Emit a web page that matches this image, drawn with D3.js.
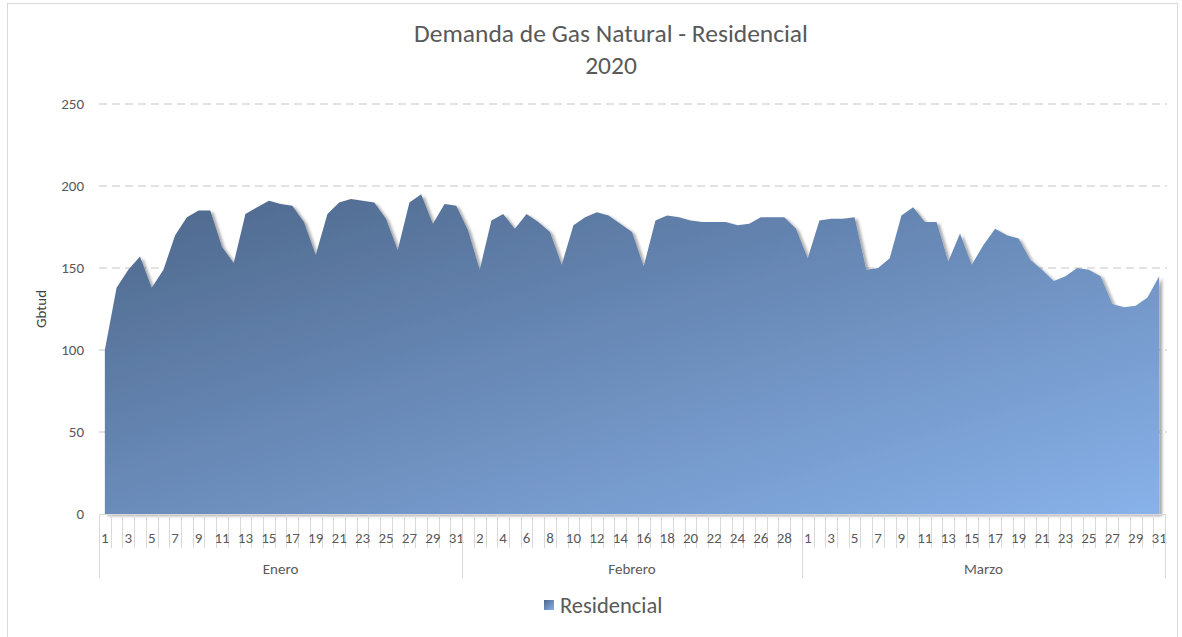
<!DOCTYPE html>
<html>
<head>
<meta charset="utf-8">
<script src="https://cdn.jsdelivr.net/npm/d3@7"></script>
<style>
  body { margin: 0; background: #fff; }
  text { font-family: Carlito, Calibri, Lato, "Open Sans", sans-serif; }
</style>
</head>
<body>
<div id="chart"></div>
<script>
// data
var months = ["Enero", "Febrero", "Marzo"];
var monthDays = [31, 29, 31];
var enero = [100, 138, 149, 157, 138, 149, 170, 181, 185, 185, 163, 153, 183, 187, 191, 189,
  188, 178, 158, 183, 190, 192, 191, 190, 180, 161, 190, 195, 177, 189, 188];
var febrero = [173, 149, 179, 183, 174, 183, 178, 172, 152, 176, 181, 184, 182, 177, 172,
  151, 179, 182, 181, 179, 178, 178, 178, 176, 177, 181, 181, 181, 174];
var marzo = [156, 179, 180, 180, 181, 149, 150, 156, 182, 187, 178, 178, 154, 171, 152, 164,
  174, 170, 168, 155, 149, 142, 145, 150, 149, 145, 128, 126, 127, 132, 145];
var yTicks = [0, 50, 100, 150, 200, 250];
var seriesName = "Residencial";

var width = 1182, height = 637;
var margin = { top: 104, left: 99, right: 17, bottom: 123 };

// one entry per day
var days = [];
[enero, febrero, marzo].forEach(function (arr, m) {
  arr.forEach(function (v, d) {
    days.push({ key: m + "-" + (d + 1), month: m, day: d + 1, value: v });
  });
});

var svg = d3.select("#chart").append("svg")
  .attr("width", width)
  .attr("height", height);

// chart frame
svg.append("rect")
  .attr("x", 7.5).attr("y", 3.5)
  .attr("width", 1170).attr("height", 660)
  .attr("fill", "none")
  .attr("stroke", "#d9d9d9");

var defs = svg.append("defs");
var grad = defs.append("linearGradient")
  .attr("id", "areaGrad")
  .attr("x1", 0).attr("y1", 0).attr("x2", 1).attr("y2", 1);
grad.append("stop").attr("offset", "0%").attr("stop-color", "#4d668a");
grad.append("stop").attr("offset", "100%").attr("stop-color", "#88b2ea");

var shadow = defs.append("filter").attr("id", "shadow")
  .attr("x", "-5%").attr("y", "-5%").attr("width", "110%").attr("height", "110%");
shadow.append("feDropShadow")
  .attr("dx", 3).attr("dy", 2).attr("stdDeviation", 1.6)
  .attr("flood-color", "#000").attr("flood-opacity", 0.35);

var x = d3.scaleBand()
  .domain(days.map(function (d) { return d.key; }))
  .range([margin.left, width - margin.right]);

var y = d3.scaleLinear()
  .domain([0, 250])
  .range([height - margin.bottom, margin.top]);

// gridlines
svg.append("g")
  .selectAll("line")
  .data(yTicks.filter(function (t) { return t > 0; }))
  .enter().append("line")
  .attr("x1", margin.left).attr("x2", width - margin.right + 2)
  .attr("y1", function (d) { return y(d); })
  .attr("y2", function (d) { return y(d); })
  .attr("stroke", "#d9d9d9")
  .attr("stroke-width", 1.3)
  .attr("stroke-dasharray", "8,5");

// y axis labels
var yAxis = d3.axisLeft(y).tickValues(yTicks).tickSize(0).tickPadding(15);
var yg = svg.append("g")
  .attr("transform", "translate(" + margin.left + ",0)")
  .call(yAxis);
yg.select(".domain").remove();
yg.selectAll("text")
  .attr("fill", "#595959")
  .style("font-size", "15px");

// area
var area = d3.area()
  .x(function (d) { return x(d.key) + x.bandwidth() / 2; })
  .y0(y(0))
  .y1(function (d) { return y(d.value); });

svg.append("path")
  .datum(days)
  .attr("d", area)
  .attr("fill", "url(#areaGrad)")
  .attr("filter", "url(#shadow)");

// x axis: day ticks
var x0 = y(0);
var xg = svg.append("g");
xg.append("line")
  .attr("x1", margin.left).attr("x2", width - margin.right)
  .attr("y1", x0 + 0.5).attr("y2", x0 + 0.5)
  .attr("stroke", "#d9d9d9");

xg.selectAll(".dtick")
  .data(days)
  .enter().append("line")
  .attr("class", "dtick")
  .attr("x1", function (d) { return Math.round(x(d.key)) + 0.5; })
  .attr("x2", function (d) { return Math.round(x(d.key)) + 0.5; })
  .attr("y1", x0).attr("y2", x0 + 34)
  .attr("stroke", "#d9d9d9");

xg.selectAll(".dlabel")
  .data(days.filter(function (d, i) { return i % 2 === 0; }))
  .enter().append("text")
  .attr("class", "dlabel")
  .attr("x", function (d) { return x(d.key) + x.bandwidth() / 2; })
  .attr("y", x0 + 29)
  .attr("text-anchor", "middle")
  .attr("fill", "#595959")
  .style("font-size", "15px")
  .text(function (d) { return d.day; });

// month groups
var starts = [0];
monthDays.forEach(function (n, i) { starts.push(starts[i] + n); });
var bounds = starts.map(function (s) {
  return s < days.length ? x(days[s].key) : x.range()[1];
});

xg.selectAll(".mtick")
  .data(bounds)
  .enter().append("line")
  .attr("class", "mtick")
  .attr("x1", function (d) { return Math.round(d) + 0.5; })
  .attr("x2", function (d) { return Math.round(d) + 0.5; })
  .attr("y1", x0).attr("y2", x0 + 64)
  .attr("stroke", "#d9d9d9");

xg.selectAll(".mlabel")
  .data(months)
  .enter().append("text")
  .attr("class", "mlabel")
  .attr("x", function (d, i) { return (bounds[i] + bounds[i + 1]) / 2; })
  .attr("y", x0 + 60)
  .attr("text-anchor", "middle")
  .attr("fill", "#595959")
  .style("font-size", "15px")
  .text(function (d) { return d; });

// title
svg.append("text")
  .attr("x", 611).attr("y", 42)
  .attr("text-anchor", "middle")
  .attr("fill", "#595959")
  .style("font-size", "25.5px")
  .style("font-weight", 300)
  .text("Demanda de Gas Natural - Residencial");
svg.append("text")
  .attr("x", 611).attr("y", 74)
  .attr("text-anchor", "middle")
  .attr("fill", "#595959")
  .style("font-size", "25.5px")
  .style("font-weight", 300)
  .text("2020");

// y axis title
svg.append("text")
  .attr("transform", "translate(46," + (y(125)) + ") rotate(-90)")
  .attr("text-anchor", "middle")
  .attr("fill", "#404040")
  .style("font-size", "15px")
  .text("Gbtud");

// legend
var lg = svg.append("g").attr("transform", "translate(544,600)");
lg.append("rect")
  .attr("width", 10).attr("height", 10)
  .attr("fill", "url(#areaGrad)");
lg.append("text")
  .attr("x", 16).attr("y", 13)
  .attr("fill", "#595959")
  .style("font-size", "22.5px")
  .text(seriesName);
</script>
</body>
</html>
